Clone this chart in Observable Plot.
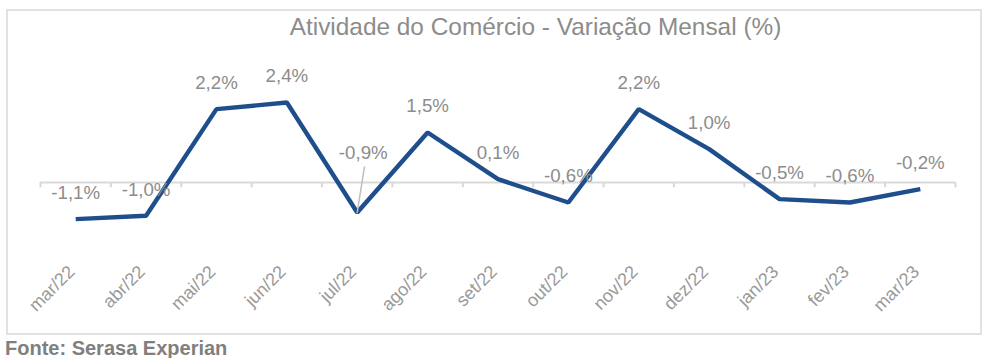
<!DOCTYPE html>
<html>
<head>
<meta charset="utf-8">
<script src="https://cdn.jsdelivr.net/npm/d3@7"></script>
<script src="https://cdn.jsdelivr.net/npm/@observablehq/plot@0.6"></script>
<style>
  html, body { margin: 0; padding: 0; background: #fff; }
  body { width: 985px; height: 358px; position: relative; overflow: hidden; font-family: "Liberation Sans", Arial, sans-serif; }
  #frame { position: absolute; left: 6px; top: 9px; width: 972px; height: 322px; border: 2px solid #e2e2e2; box-sizing: content-box; }
  #title { position: absolute; left: 0; width: 1071px; top: 12px; text-align: center; font-size: 24.4px; color: #8c8c8c; line-height: 30px; }
  #chart { position: absolute; left: 0; top: 0; }
  #source { position: absolute; left: 5px; top: 337px; font-size: 20px; font-weight: bold; color: #7f7f7f; line-height: 22px; }
</style>
</head>
<body>
<div id="frame"></div>
<div id="title">Atividade do Comércio - Variação Mensal (%)</div>
<div id="chart"></div>
<div id="source">Fonte: Serasa Experian</div>
<script>
const months = ["mar/22","abr/22","mai/22","jun/22","jul/22","ago/22","set/22","out/22","nov/22","dez/22","jan/23","fev/23","mar/23"];
const values = [-1.1, -1.0, 2.2, 2.4, -0.9, 1.5, 0.1, -0.6, 2.2, 1.0, -0.5, -0.6, -0.2];
const labels = ["-1,1%","-1,0%","2,2%","2,4%","-0,9%","1,5%","0,1%","-0,6%","2,2%","1,0%","-0,5%","-0,6%","-0,2%"];

const data = months.map((m, i) => ({i, month: m, value: values[i], label: labels[i]}));
const boundaries = d3.range(months.length + 1).map(k => k - 0.5);
const calloutIdx = 4; // jul/22 has a leader line

const chart = Plot.plot({
  width: 985,
  height: 335,
  marginLeft: 40,
  marginRight: 30,
  marginTop: 82,
  marginBottom: 79.7,
  style: {fontFamily: "'Liberation Sans', Arial, sans-serif", background: "transparent", color: "#8c8c8c"},
  x: {type: "linear", domain: [-0.5, months.length - 0.5], axis: null, label: null},
  y: {domain: [-2.2, 3.0], axis: null, label: null},
  marks: [
    Plot.ruleY([0], {stroke: "#d9d9d9", strokeWidth: 2}),
    Plot.ruleX(boundaries, {x: d => d, y1: 0, y2: -0.16, stroke: "#d9d9d9", strokeWidth: 2}),
    Plot.axisX(d3.range(months.length), {
      tickFormat: i => months[i], tickRotate: -45, tickSize: 0, tickPadding: 13, dx: -4,
      fontSize: 18, fill: "#999999", label: null
    }),
    Plot.line(data, {x: "i", y: "value", stroke: "#1f4e8c", strokeWidth: 4.4, strokeLinejoin: "miter", strokeLinecap: "butt"}),
    Plot.vector(data.filter(d => d.i === calloutIdx), {
      x: "i", y: "value", length: 46, rotate: 9, anchor: "start", stroke: "#bfbfbf", strokeWidth: 1.5,
      shape: {draw(context, l) { context.moveTo(0, 0); context.lineTo(0, -l); }}
    }),
    Plot.text(data.filter(d => d.i !== calloutIdx), {x: "i", y: "value", text: "label", dy: -26, fontSize: 18.7, fill: "#8c8c8c"}),
    Plot.text(data.filter(d => d.i === calloutIdx), {x: "i", y: "value", text: "label", dy: -59, dx: 6, fontSize: 18.7, fill: "#8c8c8c"})
  ]
});
document.getElementById("chart").appendChild(chart);
</script>
</body>
</html>
